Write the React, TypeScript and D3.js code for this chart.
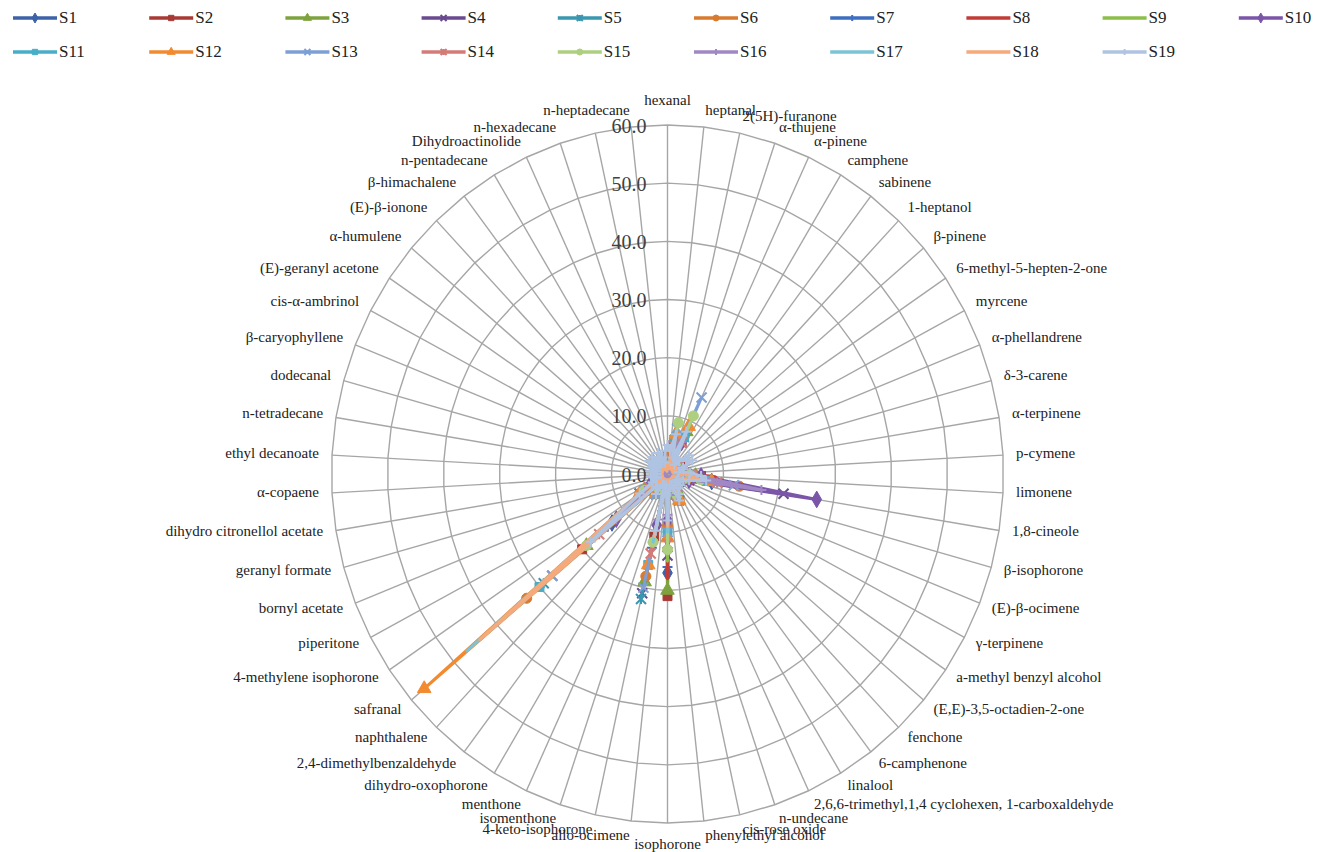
import React from 'react';
import * as d3 from 'd3';

// compound axes, clockwise from the top (one axis has no visible label in the source)
const categories = [
  'hexanal', 'heptanal', '2(5H)-furanone', 'α-thujene', 'α-pinene', 'camphene', 'sabinene', '1-heptanol', 'β-pinene', '6-methyl-5-hepten-2-one',
  'myrcene', 'α-phellandrene', 'δ-3-carene', 'α-terpinene', 'p-cymene', 'limonene', '1,8-cineole', 'β-isophorone', '(E)-β-ocimene', 'γ-terpinene',
  'a-methyl benzyl alcohol', '(E,E)-3,5-octadien-2-one', 'fenchone', '6-camphenone', 'linalool', '2,6,6-trimethyl,1,4 cyclohexen, 1-carboxaldehyde', 'n-undecane', 'cis-rose oxide', 'phenylethyl alcohol', 'isophorone',
  'allo-ocimene', '4-keto-isophorone', 'isomenthone', 'menthone', 'dihydro-oxophorone', '2,4-dimethylbenzaldehyde', 'naphthalene', 'safranal', '4-methylene isophorone', 'piperitone',
  'bornyl acetate', 'geranyl formate', 'dihydro citronellol acetate', 'α-copaene', 'ethyl decanoate', 'n-tetradecane', 'dodecanal', 'β-caryophyllene', 'cis-α-ambrinol', '(E)-geranyl acetone',
  'α-humulene', '(E)-β-ionone', 'β-himachalene', 'n-pentadecane', 'Dihydroactinolide', 'n-hexadecane', '', 'n-heptadecane',
];

const seriesNames = ['S1', 'S2', 'S3', 'S4', 'S5', 'S6', 'S7', 'S8', 'S9', 'S10',
  'S11', 'S12', 'S13', 'S14', 'S15', 'S16', 'S17', 'S18', 'S19'];

const s1 = [2, 1, 6, 1, 7, 1.5, 0.5, 0.5, 2, 1,
  2, 1, 0.5, 0.5, 2, 4, 8, 3, 1, 1,
  0.5, 1, 0.5, 1, 2, 4, 0.5, 1, 2, 17,
  1, 12, 1, 1, 3, 1, 2, 13, 4, 1,
  0.5, 0.5, 1, 0.5, 0.5, 1, 0.5, 1, 1, 1,
  0.5, 2, 0.5, 1, 1, 0.5, 0.5, 1];
const s2 = [3, 1, 5, 0.5, 6, 1, 0.5, 1, 2, 2,
  3, 1, 0.5, 1, 2, 6, 7, 4, 1, 1,
  1, 1, 0.5, 1, 2, 5, 1, 1, 2, 21,
  1, 11, 1, 0.5, 4, 1, 2, 20, 5, 1,
  1, 0.5, 1, 0.5, 1, 1, 0.5, 1, 1, 2,
  1, 2, 0.5, 1, 2, 1, 0.5, 1];
const s3 = [2, 1, 7, 1, 8, 1, 1, 0.5, 2, 1,
  2, 1, 1, 0.5, 2, 5, 6, 3, 1, 1,
  0.5, 1, 1, 1, 3, 4, 0.5, 1, 2, 20,
  1, 19, 1, 1, 3, 1, 2, 19, 5, 1,
  0.5, 1, 1, 0.5, 0.5, 1, 1, 1, 1, 1,
  0.5, 2, 1, 1, 1, 0.5, 0.5, 1];
const s4 = [2, 1, 5, 1, 6, 1, 0.5, 1, 2, 1,
  2, 1, 1, 1, 3, 5, 21, 4, 1, 1,
  1, 1, 0.5, 1, 2, 4, 1, 1, 2, 14,
  1, 21, 1, 1, 4, 1, 3, 27, 6, 1,
  1, 1, 1, 0.5, 1, 1, 0.5, 1, 1, 2,
  1, 2, 1, 1, 1, 1, 0.5, 1];
const s5 = [2, 1, 6, 1, 7, 1, 0.5, 0.5, 2, 1,
  2, 1, 0.5, 1, 2, 4, 9, 3, 1, 1,
  1, 1, 0.5, 1, 2, 5, 1, 1, 2, 12,
  1, 22, 1, 1, 4, 1, 2, 29, 6, 1,
  1, 0.5, 1, 1, 0.5, 1, 1, 1, 1, 1,
  1, 2, 0.5, 1, 1, 1, 0.5, 1];
const s6 = [3, 1, 6, 1, 7, 1, 1, 1, 2, 2,
  2, 1, 1, 1, 3, 5, 13, 4, 1, 1,
  1, 1, 1, 1, 3, 5, 1, 1, 2, 9,
  1, 18, 1, 1, 4, 1, 2, 33, 6, 1,
  1, 1, 1, 1, 1, 1, 1, 1, 1, 2,
  1, 2, 1, 1, 2, 1, 0.5, 1];
const s7 = [2, 1, 5, 1, 6, 1, 0.5, 0.5, 2, 1,
  2, 1, 0.5, 0.5, 2, 4, 8, 3, 1, 1,
  0.5, 1, 0.5, 1, 2, 4, 0.5, 1, 2, 16,
  1, 13, 1, 1, 3, 1, 2, 14, 4, 1,
  0.5, 0.5, 1, 0.5, 0.5, 1, 0.5, 1, 1, 1,
  0.5, 2, 0.5, 1, 1, 0.5, 0.5, 1];
const s8 = [3, 1, 6, 1, 6, 1, 1, 1, 2, 1,
  3, 1, 1, 1, 3, 8.5, 10, 3, 1, 1,
  1, 1, 1, 1, 2, 4, 1, 1, 2, 18,
  1, 10, 1, 1, 3, 1, 2, 16, 4, 1,
  1, 1, 1, 1, 1, 1, 1, 1, 1, 1,
  1, 2, 1, 1, 1, 1, 0.5, 1];
const s9 = [2, 1, 7, 1, 10, 1, 1, 1, 2, 1,
  2, 1, 1, 1, 2, 4, 6, 3, 1, 1,
  1, 1, 1, 1, 2, 4, 1, 1, 2, 15,
  1, 12, 1, 1, 3, 1, 2, 15, 4, 1,
  1, 1, 1, 1, 1, 1, 1, 1, 1, 1,
  1, 2, 1, 1, 1, 1, 0.5, 1];
const s10 = [2, 1, 5, 1, 6, 1, 1, 1, 2, 1,
  2, 1, 1, 1, 3, 6, 27, 4, 1, 1,
  1, 1, 1, 1, 2, 4, 1, 1, 2, 8,
  1, 9, 1, 1, 3, 1, 2, 12, 4, 1,
  1, 1, 1, 1, 1, 1, 1, 1, 1, 1,
  1, 2, 1, 1, 1, 1, 0.5, 1];
const s11 = [2, 1, 6, 1, 7, 1, 1, 1, 2, 1,
  2, 1, 1, 1, 2, 4, 7, 3, 1, 1,
  1, 1, 1, 1, 2, 4, 1, 1, 2, 10,
  1, 16, 1, 1, 4, 1, 2, 30, 5, 1,
  1, 1, 1, 1, 1, 1, 1, 1, 1, 1,
  1, 2, 1, 1, 1, 1, 0.5, 1];
const s12 = [2, 1, 7, 1, 9, 1, 1, 1, 2, 1,
  2, 1, 1, 1, 2, 4, 8, 3, 1, 1,
  1, 1, 1, 1, 2, 5, 1, 1, 2, 11,
  1, 16, 1, 1, 4, 1, 3, 57, 6, 1,
  1, 1, 1, 1, 1, 1, 1, 1, 1, 1,
  1, 2, 1, 1, 1, 1, 0.5, 1];
const s13 = [2, 1, 8, 2, 14.5, 1, 1, 1, 2, 1,
  2, 1, 1, 1, 2, 4, 12, 3, 1, 1,
  1, 1, 1, 1, 2, 4, 1, 1, 2, 10,
  1, 20, 1, 1, 4, 1, 2, 27, 5, 1,
  1, 1, 1, 1, 1, 1, 1, 1, 1, 1,
  1, 2, 1, 1, 1, 1, 0.5, 1];
const s14 = [2, 1, 5, 1, 6, 1, 1, 1, 2, 1,
  2, 1, 1, 1, 2, 4, 9, 3, 1, 1,
  1, 1, 1, 1, 2, 4, 1, 1, 2, 12,
  1, 14, 1, 1, 3, 1, 2, 16, 4, 1,
  1, 1, 1, 1, 1, 1, 1, 1, 1, 1,
  1, 2, 1, 1, 1, 1, 0.5, 1];
const s15 = [2, 1, 9, 1, 11, 1, 1, 1, 2, 1,
  2, 1, 1, 1, 2, 4, 6, 3, 1, 1,
  1, 1, 1, 1, 2, 4, 1, 1, 2, 13,
  1, 12, 1, 1, 3, 1, 2, 19, 5, 1,
  1, 1, 1, 1, 1, 1, 1, 1, 1, 1,
  1, 2, 1, 1, 1, 1, 0.5, 1];
const s16 = [2, 1, 5, 1, 6, 1, 1, 1, 2, 1,
  2, 1, 1, 1, 3, 5, 17, 3, 1, 1,
  1, 1, 1, 1, 2, 4, 1, 1, 2, 7,
  1, 8, 1, 1, 3, 1, 2, 12, 4, 1,
  1, 1, 1, 1, 1, 1, 1, 1, 1, 1,
  1, 2, 1, 1, 1, 1, 0.5, 1];
const s17 = [2, 1, 6, 1, 7, 1, 1, 1, 2, 1,
  2, 1, 1, 1, 2, 4, 5, 3, 1, 1,
  1, 1, 1, 1, 2, 4, 1, 1, 2, 10,
  1, 12, 1, 1, 4, 1, 2, 47, 6, 1,
  1, 1, 1, 1, 1, 1, 1, 1, 1, 1,
  1, 2, 1, 1, 1, 1, 0.5, 1];
const s18 = [2, 1, 6, 1, 7, 1, 1, 1, 2, 1,
  2, 1, 1, 1, 2, 4, 6, 3, 1, 1,
  1, 1, 1, 1, 2, 4, 1, 1, 2, 9,
  1, 11, 1, 1, 4, 1, 2, 44, 6, 1,
  1, 1, 1, 1, 1, 1, 1, 1, 1, 1,
  1, 2, 1, 1, 1, 1, 0.5, 1];
const s19 = [5, 4, 7, 3, 8, 3, 2, 3, 5, 4,
  5, 3, 3, 2, 4, 6, 7, 4, 3, 2,
  2, 3, 2, 3, 4, 5, 2, 2, 3, 8,
  2, 10, 2, 2, 4, 3, 3, 18, 6, 3,
  2, 2, 3, 2, 2, 3, 2, 3, 3, 4,
  2, 4, 2, 3, 4, 3, 2, 4];

const seriesValues = [s1, s2, s3, s4, s5, s6, s7, s8, s9, s10,
  s11, s12, s13, s14, s15, s16, s17, s18, s19];

const seriesColors = ['#3d62a8', '#a83a36', '#7ea33e', '#6a4a8f', '#3a97b0', '#d97b2f',
  '#3d6ebf', '#c23b36', '#8dbe4a', '#7a55a8', '#47adc8', '#f28a30',
  '#7e9fd6', '#d47b78', '#aecf7f', '#9f88c4', '#7cc3d6', '#f6a97a', '#afc3e2'];

const markerShapes = ['diamond', 'square', 'triangle', 'x', 'star', 'circle',
  'plus', 'none', 'none', 'diamond', 'square', 'triangle',
  'x', 'star', 'circle', 'plus', 'none', 'none', 'plus'];

const tickValues = [0, 10, 20, 30, 40, 50, 60];

const W = 1317;
const H = 852;
const cx = 667.5;
const cy = 474;
const font = '"Liberation Serif", "Times New Roman", serif';

const Marker = ({ shape, x, y, size, color }) => {
  const h = size / 2;
  const symbols = {
    diamond: d3.symbolDiamond,
    square: d3.symbolSquare,
    triangle: d3.symbolTriangle,
    circle: d3.symbolCircle,
  };
  if (symbols[shape]) {
    const path = d3.symbol(symbols[shape], size * size * 0.8)();
    return <path d={path} transform={`translate(${x},${y})`} fill={color} stroke={color} strokeWidth={1} />;
  }
  if (shape === 'x' || shape === 'star' || shape === 'plus') {
    let d = '';
    if (shape !== 'plus') d += `M${x - h},${y - h}L${x + h},${y + h}M${x - h},${y + h}L${x + h},${y - h}`;
    if (shape === 'star' || shape === 'plus') d += `M${x},${y - h}L${x},${y + h}`;
    if (shape === 'plus') d += `M${x - h},${y}L${x + h},${y}`;
    return <path d={d} stroke={color} strokeWidth={2} fill="none" />;
  }
  return null;
};

const App = () => {
  const n = categories.length;
  const angle = d3.scaleLinear().domain([0, n]).range([0, 2 * Math.PI]);
  // the source picture is slightly stretched vertically
  const rx = d3.scaleLinear().domain([0, 60]).range([0, 336]);
  const ry = d3.scaleLinear().domain([0, 60]).range([0, 349]);
  const px = (i, v) => cx + rx(v) * Math.sin(angle(i));
  const py = (i, v) => cy - ry(v) * Math.cos(angle(i));

  const ring = d3.line().curve(d3.curveLinearClosed);

  const legendX = d3.scaleLinear().domain([0, 1]).range([13, 149.2]);
  const legendY = [18, 52];

  return (
    <div style={{ position: 'absolute', left: 0, top: 0 }}>
      <svg width={W} height={H} style={{ display: 'block', background: '#fff' }}>
        {/* grid */}
        <g stroke="#a6a6a6" strokeWidth={1.4} fill="none">
          {tickValues.slice(1).map((t) => (
            <path key={t} d={ring(categories.map((c, i) => [px(i, t), py(i, t)]))} />
          ))}
          {categories.map((c, i) => (
            <line key={i} x1={cx} y1={cy} x2={px(i, 60)} y2={py(i, 60)} />
          ))}
        </g>

        {/* value axis labels */}
        <g fontFamily={font} fontSize={20} fill="#404040" textAnchor="end">
          {tickValues.map((t) => (
            <text key={t} x={cx - 21} y={cy - ry(t) + 3} dominantBaseline="middle">{t.toFixed(1)}</text>
          ))}
        </g>

        {/* category labels */}
        <g fontFamily={font} fontSize={15} fill="#222">
          {categories.map((c, i) => {
            const s = Math.sin(angle(i));
            const co = Math.cos(angle(i));
            const centred = Math.abs(s) < 0.02;
            const anchor = centred ? 'middle' : s > 0 ? 'start' : 'end';
            const x = px(i, 60) + 13 * s;
            const y = py(i, 60) - (16 + (centred ? 7 : 0)) * co;
            return (
              <text key={i} x={x} y={y} textAnchor={anchor} dominantBaseline="middle">{c}</text>
            );
          })}
        </g>

        {/* series */}
        {seriesValues.map((vals, si) => (
          <g key={si}>
            <path
              d={ring(vals.map((v, i) => [px(i, v), py(i, v)]))}
              fill="none"
              stroke={seriesColors[si]}
              strokeWidth={3}
              strokeLinejoin="round"
            />
            {vals.map((v, i) => (
              <Marker key={i} shape={markerShapes[si]} x={px(i, v)} y={py(i, v)} size={10} color={seriesColors[si]} />
            ))}
          </g>
        ))}

        {/* legend */}
        <g fontFamily={font} fontSize={17} fill="#222">
          {seriesNames.map((name, si) => {
            const col = si % 10;
            const row = Math.floor(si / 10);
            const x0 = legendX(col);
            const y0 = legendY[row];
            return (
              <g key={name}>
                <line x1={x0} x2={x0 + 44} y1={y0} y2={y0} stroke={seriesColors[si]} strokeWidth={3.5} />
                <Marker shape={markerShapes[si]} x={x0 + 22} y={y0} size={6} color={seriesColors[si]} />
                <text x={x0 + 46} y={y0 + 1} dominantBaseline="middle">{name}</text>
              </g>
            );
          })}
        </g>
      </svg>
    </div>
  );
};

export default App;
